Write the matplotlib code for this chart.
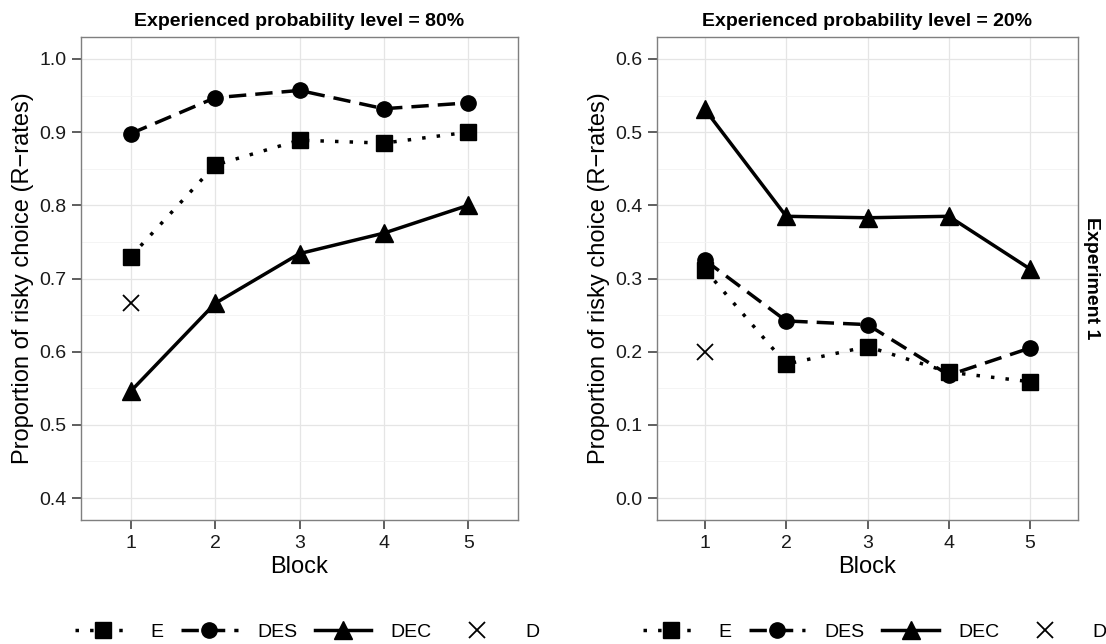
import matplotlib
matplotlib.use("Agg")
import matplotlib.pyplot as plt
from matplotlib.lines import Line2D
import numpy as np

plt.rcParams['font.family'] = ['Liberation Sans', 'DejaVu Sans']

blocks = [1, 2, 3, 4, 5]

# Experienced probability level = 80%
e_80 = [0.730, 0.855, 0.889, 0.885, 0.900]
des_80 = [0.898, 0.947, 0.957, 0.932, 0.940]
dec_80 = [0.546, 0.666, 0.734, 0.762, 0.800]
d_80 = [0.666]

# Experienced probability level = 20%
e_20 = [0.312, 0.183, 0.207, 0.172, 0.159]
des_20 = [0.325, 0.242, 0.237, 0.168, 0.205]
dec_20 = [0.531, 0.385, 0.383, 0.385, 0.313]
d_20 = [0.199]

titles = ["Experienced probability level = 80%", "Experienced probability level = 20%"]
ylims = [(0.37, 1.03), (-0.03, 0.63)]
yticks = [[0.4, 0.5, 0.6, 0.7, 0.8, 0.9, 1.0], [0.0, 0.1, 0.2, 0.3, 0.4, 0.5, 0.6]]
series = [(e_80, des_80, dec_80, d_80), (e_20, des_20, dec_20, d_20)]
labels = ["E", "DES", "DEC", "D"]

DOT = (0, (1, 3.2))
DASH = (0, (5, 2.6))
LW = 2.5
styles = [
    dict(linestyle=DOT, marker='s', markersize=11),
    dict(linestyle=DASH, marker='o', markersize=11),
    dict(linestyle='-', marker='^', markersize=13),
]
x_style = dict(linestyle='none', marker='x', markersize=11, markeredgewidth=1.3)

fig = plt.figure(figsize=(11.06, 6.44), dpi=100)
positions = [[81 / 1106, 124 / 644, 437 / 1106, 483 / 644],
             [657 / 1106, 124 / 644, 421 / 1106, 483 / 644]]

for i, pos in enumerate(positions):
    ax = fig.add_axes(pos)
    e, des, dec, d = series[i]
    for vals, st in zip((e, des, dec), styles):
        ax.plot(blocks, vals, color='black', lw=LW, zorder=3, **st)
    ax.plot(blocks[:1], d, color='black', zorder=3, **x_style)

    ax.set_xlim(0.41, 5.59)
    ax.set_ylim(*ylims[i])
    ax.set_xticks(blocks)
    ax.set_yticks(yticks[i])
    ax.set_yticklabels([f"{v:.1f}" for v in yticks[i]])
    minor = np.array(yticks[i][:-1]) + 0.05
    ax.set_yticks(minor, minor=True)
    ax.tick_params(axis='y', which='minor', length=0)
    ax.grid(True, which='major', color='#E5E5E5', lw=0.9, zorder=0)
    ax.grid(True, which='minor', axis='y', color='#F3F3F3', lw=0.6, zorder=0)
    ax.set_axisbelow(True)
    for s in ax.spines.values():
        s.set_color('#7F7F7F')
        s.set_linewidth(1.0)
    ax.tick_params(axis='both', which='major', labelsize=14, color='#333333',
                   length=6.5, width=1.1, labelcolor='#1A1A1A', pad=4)
    ax.set_xlabel("Block", fontsize=17, labelpad=3)
    ax.set_ylabel("Proportion of risky choice (R\u2212rates)", fontsize=17, labelpad=4)
    ax.set_title(titles[i], fontsize=14, fontweight='bold', pad=8)

    handles = [Line2D([], [], color='black', lw=LW, **st) for st in styles]
    handles.append(Line2D([], [], color='black', **x_style))
    ax.legend(handles, labels, loc='center', bbox_to_anchor=(0.517, -0.232),
              ncol=4, frameon=False, fontsize=14, handlelength=2.9, handletextpad=1.0,
              columnspacing=0.9, borderpad=0.0)

    if i == 1:
        ax.text(1.031, 0.5, "Experiment 1", transform=ax.transAxes, rotation=-90,
                ha='center', va='center', fontsize=14, fontweight='bold')

fig.savefig("out.png", dpi=100)
